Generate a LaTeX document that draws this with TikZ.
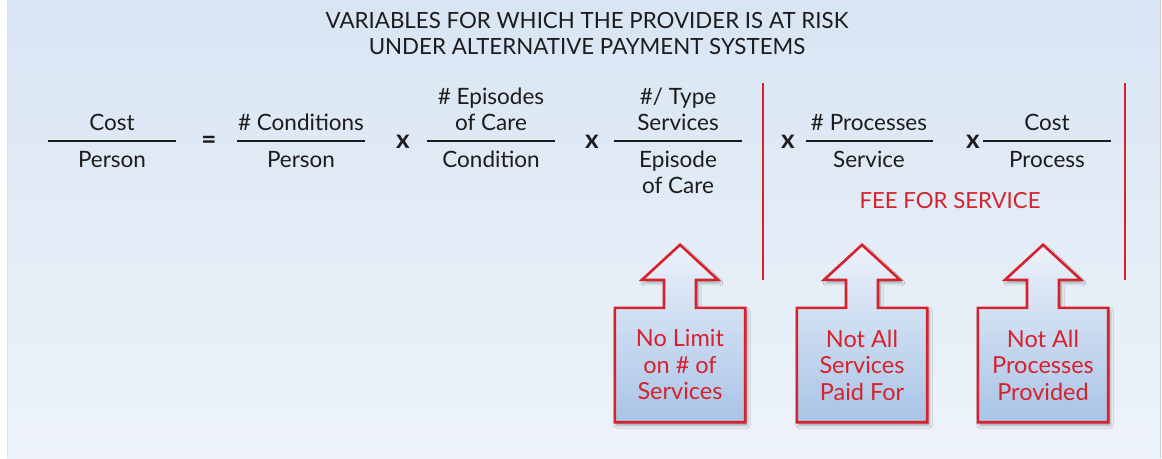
\documentclass[tikz,border=0pt]{standalone}
\usepackage{fontspec}
\setmainfont{Lato}
\usetikzlibrary{positioning,backgrounds,shadows.blur}
\definecolor{ink}{RGB}{30,27,28}
\definecolor{riskred}{RGB}{214,34,44}
\definecolor{paneltop}{RGB}{216,229,243}
\definecolor{panelbot}{RGB}{238,243,250}
\definecolor{boxtop}{RGB}{236,242,250}
\definecolor{boxbot}{RGB}{168,195,230}
\tikzstyle{heading} = [align=center, text=ink, font=\fontsize{22.3}{26}\selectfont]
\tikzstyle{word} = [inner sep=0pt, outer sep=0pt, align=center, text=ink, font=\fontsize{22.5}{26}\selectfont]
\tikzstyle{bar} = [fill=ink, inner sep=0pt, outer sep=0pt, minimum height=1.3pt, minimum width=128pt]
\tikzstyle{op} = [inner sep=0pt, text=ink, font=\fontsize{26}{26}\selectfont\bfseries]
\tikzstyle{fence} = [draw=riskred, line width=2pt]
\tikzstyle{label} = [text=riskred, font=\fontsize{22.2}{26}\selectfont]
\tikzstyle{risk} = [inner sep=0pt, minimum width=130pt, minimum height=114pt, align=center, text=riskred, font=\fontsize{23.5}{26.5}\selectfont]
\tikzstyle{riskline} = [draw=riskred, line width=2.6pt, line join=miter, top color=boxtop, bottom color=boxbot,
  blur shadow={shadow xshift=2pt, shadow yshift=-3pt, shadow blur radius=3pt, shadow opacity=35}]

\begin{document}
\begin{tikzpicture}[x=1pt,y=-1pt,node distance=9.5pt]
  \useasboundingbox (0,0) rectangle (1162,458);

  %title
  \node[heading] (head) at (587,34) {VARIABLES FOR WHICH THE PROVIDER IS AT RISK\\UNDER ALTERNATIVE PAYMENT SYSTEMS};

  %cost per person
  \node[bar] (cpp) at (112,141) {};
  \node[word,above=of cpp] (cppn) {Cost};
  \node[word,below=of cpp] (cppd) {Person};
  \node[op] (eq) at (209,142) {=};

  %conditions
  \node[bar] (cond) at (301,141) {};
  \node[word,above=of cond] (condn) {\# Conditions};
  \node[word,below=of cond] (condd) {Person};
  \node[op] (x1) at (403,142) {x};

  %episodes
  \node[bar] (epi) at (491,141) {};
  \node[word,above=of epi] (epin) {\# Episodes\\of Care};
  \node[word,below=of epi] (epid) {Condition};
  \node[op] (x2) at (592,142) {x};

  %type of services
  \node[bar] (typ) at (678,141) {};
  \node[word,above=of typ] (typn) {\#/ Type\\Services};
  \node[word,below=of typ] (typd) {Episode\\of Care};

  %fee for service
  \node[op] (x3) at (788,142) {x};
  \node[bar,minimum width=127pt] (proc) at (869,141) {};
  \node[word,above=of proc] (procn) {\# Processes};
  \node[word,below=of proc] (procd) {Service};
  \node[op] (x4) at (973,142) {x};
  \node[bar] (cst) at (1047,141) {};
  \node[word,above=of cst] (cstn) {Cost};
  \node[word,below=of cst] (cstd) {Process};
  \node[label] (ffs) at (950,201) {FEE FOR SERVICE};

  \coordinate (fence1t) at (763,83);
  \coordinate (fence1b) at (763,280);
  \coordinate (fence2t) at (1125,83);
  \coordinate (fence2b) at (1125,280);
  \draw[fence] (fence1t) -- (fence1b);
  \draw[fence] (fence2t) -- (fence2b);

  %risks
  \node[risk] (limit) at (680,365) {No Limit\\on \# of\\Services};
  \node[risk] (paid) at (862,365) {Not All\\Services\\Paid For};
  \node[risk] (done) at (1043,365) {Not All\\Processes\\Provided};

  \begin{scope}[on background layer]
    \fill[white] (0,0) rectangle (1162,458);
    \shade[top color=paneltop, bottom color=panelbot] (7,0) rectangle (1160,458);
    \draw[gray!25, line width=1pt] (7,0) -- (7,458);
    \draw[gray!40, line width=1pt] (1160,0) -- (1160,458);
    \draw[riskline] (limit.south west) -- (limit.north west) -- ([xshift=-16pt]limit.north) -- ++(0,-28) -- ++(-22,0)
      -- ([yshift=63pt]limit.north) -- ++(38,35) -- ++(-22,0) -- ++(0,28) -- (limit.north east) -- (limit.south east) -- cycle;
    \draw[riskline] (paid.south west) -- (paid.north west) -- ([xshift=-16pt]paid.north) -- ++(0,-28) -- ++(-22,0)
      -- ([yshift=63pt]paid.north) -- ++(38,35) -- ++(-22,0) -- ++(0,28) -- (paid.north east) -- (paid.south east) -- cycle;
    \draw[riskline] (done.south west) -- (done.north west) -- ([xshift=-16pt]done.north) -- ++(0,-28) -- ++(-22,0)
      -- ([yshift=63pt]done.north) -- ++(38,35) -- ++(-22,0) -- ++(0,28) -- (done.north east) -- (done.south east) -- cycle;
  \end{scope}

\end{tikzpicture}
\end{document}
